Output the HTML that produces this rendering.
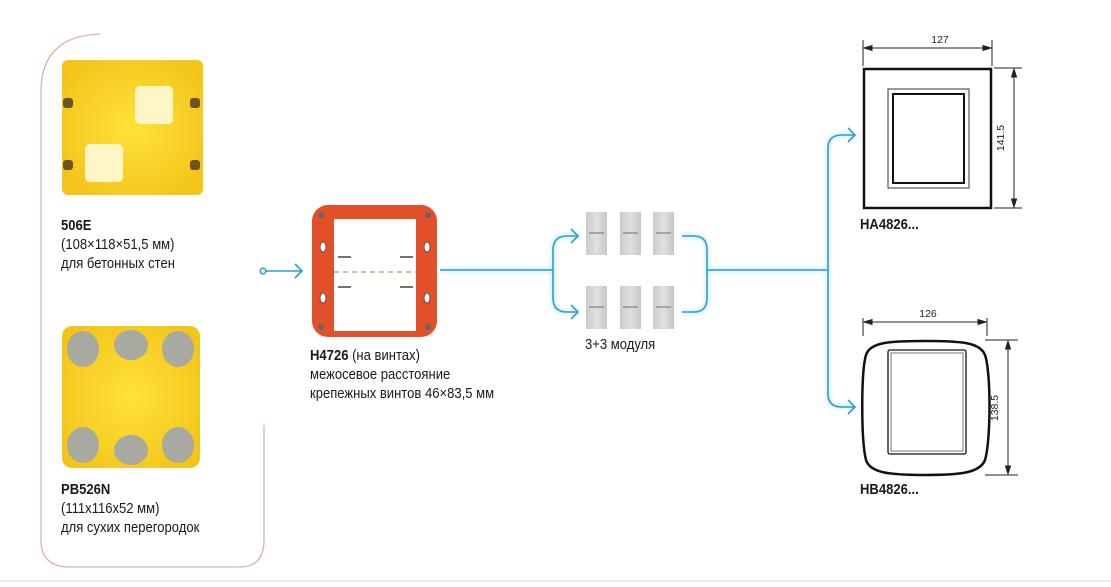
<!DOCTYPE html>
<html><head><meta charset="utf-8"><style>
html,body{margin:0;padding:0;background:#fff;}
body{width:1111px;height:587px;overflow:hidden;position:relative;font-family:"Liberation Sans Narrow","Liberation Sans",sans-serif;color:#1a1a1a;}
.t{position:absolute;font-size:14.5px;line-height:19px;white-space:nowrap;transform:scaleX(0.9);transform-origin:0 0;}
b{font-weight:bold;}
</style></head><body>
<svg width="1111" height="587" style="position:absolute;left:0;top:0">
<defs>
<filter id="gl" x="-20%" y="-20%" width="140%" height="140%"><feGaussianBlur stdDeviation="2"/></filter>
<radialGradient id="yel" cx="50%" cy="50%" r="60%"><stop offset="0" stop-color="#ffe23a"/><stop offset="1" stop-color="#f3c51a"/></radialGradient>
<linearGradient id="mod" x1="0" x2="1"><stop offset="0" stop-color="#c9cbcd"/><stop offset="0.5" stop-color="#dfe0e2"/><stop offset="1" stop-color="#c4c6c8"/></linearGradient>
</defs>
<path d="M100,34 Q42,36 41,90 L41,540 Q41,567 70,567 L240,567 Q264,567 264,540 L264,425" fill="none" stroke="#d9b3a6" stroke-width="1.3"/>
<line x1="0" y1="581" x2="1111" y2="581" stroke="#d8d8d8" stroke-width="1"/>
<rect x="62" y="60" width="141" height="135" rx="6" fill="url(#yel)"/>
<rect x="135" y="86" width="38" height="38" rx="5" fill="#fff6c8"/>
<rect x="85" y="144" width="38" height="38" rx="5" fill="#fff6c8"/>
<g fill="#6b5420"><rect x="63" y="98" width="10" height="10" rx="3"/><rect x="63" y="160" width="10" height="10" rx="3"/><rect x="190" y="98" width="10" height="10" rx="3"/><rect x="190" y="160" width="10" height="10" rx="3"/></g>
<rect x="62" y="326" width="138" height="142" rx="10" fill="url(#yel)"/>
<g fill="#a8a9a0"><ellipse cx="83" cy="349" rx="16" ry="18"/><ellipse cx="131" cy="345" rx="17" ry="15"/><ellipse cx="178" cy="349" rx="16" ry="18"/><ellipse cx="83" cy="445" rx="16" ry="18"/><ellipse cx="131" cy="450" rx="17" ry="15"/><ellipse cx="178" cy="445" rx="16" ry="18"/></g>
<rect x="312" y="205" width="125" height="132" rx="16" fill="#e2502a"/>
<rect x="334" y="219" width="82" height="112" fill="#fff"/>
<line x1="334" y1="272" x2="416" y2="272" stroke="#c9c59a" stroke-width="2" stroke-dasharray="5,4"/>
<g fill="#666"><circle cx="321" cy="215" r="3"/><circle cx="428" cy="215" r="3"/><circle cx="321" cy="327" r="3"/><circle cx="428" cy="327" r="3"/></g>
<g fill="#fff" stroke="#555" stroke-width="1"><ellipse cx="323" cy="247" rx="3" ry="5"/><ellipse cx="427" cy="247" rx="3" ry="5"/><ellipse cx="323" cy="298" rx="3" ry="5"/><ellipse cx="427" cy="298" rx="3" ry="5"/></g>
<g stroke="#444" stroke-width="1.5"><line x1="338" y1="257" x2="351" y2="257"/><line x1="400" y1="257" x2="413" y2="257"/><line x1="338" y1="287" x2="351" y2="287"/><line x1="400" y1="287" x2="413" y2="287"/></g>
<g stroke="#9fdcf5" stroke-width="4" fill="none" filter="url(#gl)" opacity="0.55">
<path d="M440,270 L553,270"/><path d="M553,270 L553,250 Q553,236 567,236 L578,236"/><path d="M553,270 L553,298 Q553,312 567,312 L578,312"/>
<path d="M682,236 L694,236 Q707,236 707,250 L707,298 Q707,312 694,312 L682,312"/><path d="M707,270 L828,270"/>
<path d="M828,148 Q828,135 842,135 L855,135"/><path d="M828,148 L828,394 Q828,407 842,407 L855,407"/>
</g>
<g stroke="#2a9fd0" stroke-width="1.6" fill="none">
<circle cx="263" cy="271" r="2.8" fill="#fff"/><line x1="266" y1="271" x2="302" y2="271"/><path d="M295,264 L302,271 L295,278"/>
<path d="M440,270 L553,270"/><path d="M553,270 L553,250 Q553,236 567,236 L578,236"/><path d="M553,270 L553,298 Q553,312 567,312 L578,312"/>
<path d="M571,229 L578,236 L571,243"/><path d="M571,305 L578,312 L571,319"/>
<path d="M682,236 L694,236 Q707,236 707,250 L707,298 Q707,312 694,312 L682,312"/><path d="M707,270 L828,270"/>
<path d="M828,148 Q828,135 842,135 L855,135"/><path d="M828,148 L828,394 Q828,407 842,407 L855,407"/>
<path d="M848,128 L855,135 L848,142"/><path d="M848,400 L855,407 L848,414"/>
</g>
<g fill="url(#mod)"><rect x="586" y="212" width="21" height="43"/><rect x="620" y="212" width="21" height="43"/><rect x="653" y="212" width="21" height="43"/><rect x="586" y="286" width="21" height="43"/><rect x="620" y="286" width="21" height="43"/><rect x="653" y="286" width="21" height="43"/></g>
<g stroke="#8d9297" stroke-width="1.5"><line x1="589" y1="233" x2="604" y2="233"/><line x1="623" y1="233" x2="638" y2="233"/><line x1="656" y1="233" x2="671" y2="233"/><line x1="589" y1="307" x2="604" y2="307"/><line x1="623" y1="307" x2="638" y2="307"/><line x1="656" y1="307" x2="671" y2="307"/></g>
<rect x="864" y="69" width="127" height="139" fill="none" stroke="#111" stroke-width="2.5"/>
<rect x="888" y="89" width="81" height="99" fill="none" stroke="#333" stroke-width="1"/>
<rect x="893" y="94" width="71" height="89" fill="none" stroke="#111" stroke-width="2"/>
<g stroke="#222" stroke-width="1" fill="#222">
<line x1="863" y1="40" x2="863" y2="66"/><line x1="992" y1="40" x2="992" y2="66"/><line x1="864" y1="48" x2="991" y2="48"/>
<path d="M864,48 L872,45.5 L872,50.5Z"/><path d="M991,48 L983,45.5 L983,50.5Z"/>
<line x1="994" y1="68" x2="1022" y2="68"/><line x1="994" y1="208" x2="1022" y2="208"/><line x1="1014" y1="69" x2="1014" y2="207"/>
<path d="M1014,69 L1011.5,77 L1016.5,77Z"/><path d="M1014,207 L1011.5,199 L1016.5,199Z"/>
<line x1="863" y1="318" x2="863" y2="336"/><line x1="987" y1="318" x2="987" y2="336"/><line x1="864" y1="322" x2="986" y2="322"/>
<path d="M864,322 L872,319.5 L872,324.5Z"/><path d="M986,322 L978,319.5 L978,324.5Z"/>
<line x1="985" y1="340" x2="1018" y2="340"/><line x1="985" y1="475" x2="1018" y2="475"/><line x1="1008" y1="341" x2="1008" y2="474"/>
<path d="M1008,341 L1005.5,349 L1010.5,349Z"/><path d="M1008,474 L1005.5,466 L1010.5,466Z"/>
</g>
<path d="M925,341 C960,341 980,342 985,355 C991,372 991,440 985,460 C980,473 960,475 925,475 C890,475 870,473 866,460 C861,440 861,372 866,355 C870,342 890,341 925,341Z" fill="none" stroke="#111" stroke-width="2.5"/>
<rect x="888" y="350" width="78" height="104" rx="2" fill="none" stroke="#111" stroke-width="1.3"/>
<rect x="891" y="353" width="72" height="98" fill="none" stroke="#555" stroke-width="0.8"/>
<g font-family="Liberation Sans Narrow,Liberation Sans,sans-serif" font-size="10.5" fill="#222">
<text x="940" y="43" text-anchor="middle">127</text>
<text x="928" y="317" text-anchor="middle">126</text>
<text transform="translate(1004,138) rotate(-90)" text-anchor="middle">141.5</text>
<text transform="translate(998,408) rotate(-90)" text-anchor="middle">138.5</text>
</g>
</svg>
<div class="t" style="left:61px;top:217px"><b>506E</b><br>(108×118×51,5 мм)<br>для бетонных стен</div>
<div class="t" style="left:61px;top:481px"><b>PB526N</b><br>(111x116x52 мм)<br>для сухих перегородок</div>
<div class="t" style="left:310px;top:347px"><b>H4726</b> (на винтах)<br>межосевое расстояние<br>крепежных винтов 46×83,5 мм</div>
<div class="t" style="left:585px;top:336px">3+3 модуля</div>
<div class="t" style="left:860px;top:216px"><b>HA4826...</b></div>
<div class="t" style="left:860px;top:481px"><b>HB4826...</b></div>
</body></html>
